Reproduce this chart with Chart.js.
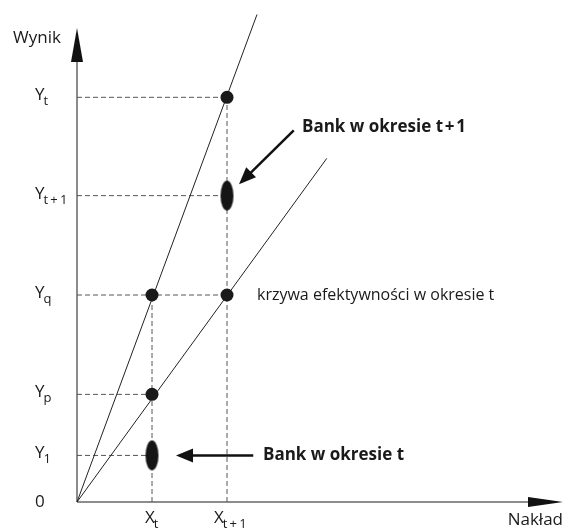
<!DOCTYPE html>
<html>
<head>
<meta charset="utf-8">
<script src="https://cdn.jsdelivr.net/npm/chart.js@4/dist/chart.umd.min.js"></script>
<style>
  body { margin: 0; background: #fff; }
  canvas { display: block; }
</style>
</head>
<body>
<canvas id="chart" width="569" height="529"></canvas>
<script>
// poziomy na osiach (jednostki umowne)
const xLabels = ['t', 't+1'];
const xValues = [1, 2];
const yLabels = ['1', 'p', 'q', 't+1', 't'];
const yValues = [0.45, 1.04, 2.0, 2.96, 3.91];

// linie efektywnosci (poczatek i koniec)
const steepLine = [[0, 0], [2.4, 4.71]];
const effLine = [[0, 0], [3.33, 3.32]];

// punkty na przecieciach
const dotsX = [2, 1, 2, 1];
const dotsY = [3.91, 2.0, 2.0, 1.04];

// banki
const banksX = [1, 2];
const banksY = [0.45, 2.96];

// zakres osi
const axisMaxX = 6.48;
const axisMaxY = 4.58;

const pts = arr => arr.map(p => ({ x: p[0], y: p[1] }));

// poziome i pionowe linie przerywane
const dashH = [
  [[0, yValues[0]], [xValues[0], yValues[0]]],
  [[0, yValues[1]], [xValues[0], yValues[1]]],
  [[0, yValues[2]], [xValues[1], yValues[2]]],
  [[0, yValues[3]], [xValues[1], yValues[3]]],
  [[0, yValues[4]], [xValues[1], yValues[4]]]
];
const dashV = [
  [[xValues[0], 0], [xValues[0], yValues[2]]],
  [[xValues[1], 0], [xValues[1], yValues[4]]]
];

function ellipseStyle(w, h) {
  const c = document.createElement('canvas');
  c.width = w + 2;
  c.height = h + 2;
  const g = c.getContext('2d');
  g.fillStyle = '#151515';
  g.beginPath();
  g.ellipse(c.width / 2, c.height / 2, w / 2, h / 2, 0, 0, Math.PI * 2);
  g.fill();
  return c;
}

const datasets = [];
datasets.push({
  data: dotsX.map((x, i) => ({ x: x, y: dotsY[i] })),
  pointRadius: 6.5,
  pointBackgroundColor: '#1a1a1a',
  pointBorderWidth: 0,
  showLine: false,
  order: 0
});
datasets.push({
  data: banksX.map((x, i) => ({ x: x, y: banksY[i] })),
  pointStyle: ellipseStyle(13, 30),
  showLine: false,
  order: 0
});
[steepLine, effLine].forEach(seg => {
  datasets.push({
    data: pts(seg),
    borderColor: '#222',
    borderWidth: 1,
    pointRadius: 0,
    showLine: true,
    order: 1
  });
});
dashH.concat(dashV).forEach(seg => {
  datasets.push({
    data: pts(seg),
    borderColor: '#555',
    borderWidth: 1,
    borderDash: [5, 3],
    pointRadius: 0,
    showLine: true,
    order: 2
  });
});
// osie
datasets.push({ data: [{ x: 0, y: 0 }, { x: 0, y: axisMaxY - 0.3 }], borderColor: '#666', borderWidth: 1.5, pointRadius: 0, showLine: true, order: 3 });
datasets.push({ data: [{ x: 0, y: 0 }, { x: axisMaxX - 0.4, y: 0 }], borderColor: '#666', borderWidth: 1.5, pointRadius: 0, showLine: true, order: 3 });

function arrowHead(ctx, x1, y1, x2, y2, len, half) {
  const a = Math.atan2(y2 - y1, x2 - x1);
  ctx.beginPath();
  ctx.moveTo(x2, y2);
  ctx.lineTo(x2 - len * Math.cos(a) + half * Math.sin(a), y2 - len * Math.sin(a) - half * Math.cos(a));
  ctx.lineTo(x2 - len * Math.cos(a) - half * Math.sin(a), y2 - len * Math.sin(a) + half * Math.cos(a));
  ctx.closePath();
  ctx.fill();
}

// litera z indeksem dolnym, x = lewa krawedz
function subLabel(ctx, x, y, main, sub) {
  ctx.textAlign = 'left';
  ctx.textBaseline = 'alphabetic';
  ctx.font = '17px "Open Sans"';
  const w1 = ctx.measureText(main).width;
  ctx.fillText(main, x, y);
  ctx.font = '13px "Open Sans"';
  ctx.fillText(sub.replace('+', '\u2009+\u2009'), x + w1 - 1, y + 5);
}

const decorations = {
  id: 'decorations',
  afterDatasetsDraw(chart) {
    const ctx = chart.ctx;
    const sx = chart.scales.x, sy = chart.scales.y;
    const px = v => sx.getPixelForValue(v);
    const py = v => sy.getPixelForValue(v);
    ctx.save();
    ctx.fillStyle = '#111';
    // groty osi
    arrowHead(ctx, px(0), py(0), px(0), py(axisMaxY), 34, 6);
    arrowHead(ctx, px(0), py(0), px(axisMaxX), py(0), 35, 5);

    // strzalki do bankow
    ctx.strokeStyle = '#111';
    ctx.lineWidth = 2.5;
    const a1 = [[2.35, 0.45], [1.32, 0.45]];
    const a2 = [[2.89, 3.59], [2.16, 3.07]];
    [a1, a2].forEach(a => {
      const x1 = px(a[0][0]), y1 = py(a[0][1]), x2 = px(a[1][0]), y2 = py(a[1][1]);
      const ang = Math.atan2(y2 - y1, x2 - x1);
      ctx.beginPath();
      ctx.moveTo(x1, y1);
      ctx.lineTo(x2 - 12 * Math.cos(ang), y2 - 12 * Math.sin(ang));
      ctx.stroke();
      arrowHead(ctx, x1, y1, x2, y2, 17, 7);
    });

    ctx.fillStyle = '#1a1a1a';
    // podpisy osi
    yLabels.forEach((s, i) => {
      subLabel(ctx, px(0) - 42, py(yValues[i]) + 3, 'Y', s);
    });
    xLabels.forEach((s, i) => {
      subLabel(ctx, px(xValues[i]) - 7 - (s.length > 1 ? 6 : 0), py(0) + 21, 'X', s);
    });
    ctx.font = '17px "Open Sans"';
    ctx.textAlign = 'left';
    ctx.textBaseline = 'alphabetic';
    ctx.fillText('0', px(0) - 42, py(0) + 5);
    ctx.fillText('Wynik', px(0) - 64, py(0) - 459);
    ctx.textAlign = 'right';
    ctx.fillText('Nakład', px(axisMaxX), py(0) + 23);
    ctx.textAlign = 'left';
    ctx.textBaseline = 'middle';
    ctx.font = '16px "Open Sans"';
    ctx.fillText('krzywa efektywności w okresie t', px(2.4), py(2.0));
    ctx.font = 'bold 17px "Open Sans"';
    ctx.fillText('Bank w okresie t\u200a+\u200a1', px(3.0), py(3.62));
    ctx.fillText('Bank w okresie t', px(2.48), py(0.45));
    ctx.restore();
  }
};

new Chart(document.getElementById('chart'), {
  type: 'scatter',
  data: { datasets: datasets },
  options: {
    responsive: false,
    animation: false,
    layout: { padding: 0, autoPadding: false },
    plugins: { legend: { display: false }, tooltip: { enabled: false } },
    scales: {
      x: { type: 'linear', display: false, min: -77 / 75, max: 492 / 75 },
      y: { type: 'linear', display: false, min: -27 / 103.5, max: 502 / 103.5 }
    }
  },
  plugins: [decorations]
});
</script>
</body>
</html>
